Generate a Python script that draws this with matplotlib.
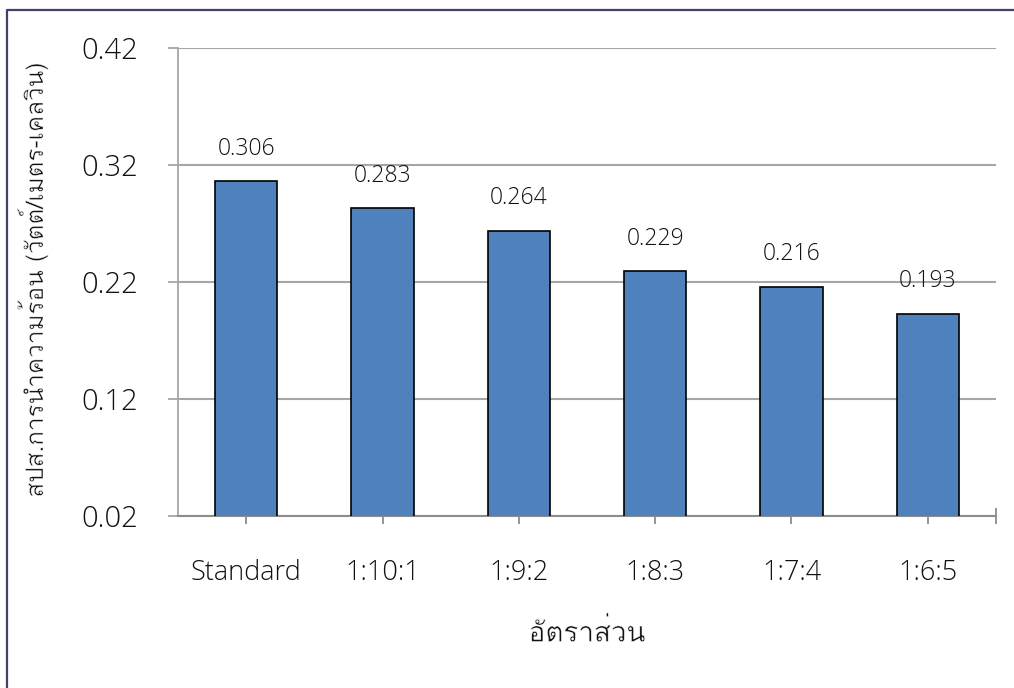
import os
import matplotlib
matplotlib.use("Agg")
import matplotlib.pyplot as plt
import matplotlib.patheffects as pe
from matplotlib import font_manager
from matplotlib.font_manager import FontProperties
from matplotlib.ft2font import FT2Font
from matplotlib.lines import Line2D

# Data
categories = ["Standard", "1:10:1", "1:9:2", "1:8:3", "1:7:4", "1:6:5"]
values = [0.306, 0.283, 0.264, 0.229, 0.216, 0.193]
y_ticks = [0.02, 0.12, 0.22, 0.32, 0.42]
x_label = "อัตราส่วน"
y_label = "สปส.การนำความร้อน (วัตต์/เมตร-เคลวิน)"


def find_thai_font():
    """Path of a regular-weight upright sans font that covers Thai."""
    best, best_score = None, None
    for entry in font_manager.fontManager.ttflist:
        try:
            ft = FT2Font(entry.fname)
            if ft.get_char_index(ord("ส")) == 0 or ft.get_char_index(ord("ว")) == 0:
                continue
            style_name = (ft.style_name or "").lower()
        except Exception:
            continue
        base = os.path.basename(entry.fname).lower()
        score = 0
        if "bold" in base or "bold" in style_name or "black" in base or "heavy" in base:
            score += 100
        if "semi" in base or "medium" in base or "medium" in style_name:
            score += 40
        if "italic" in base or "oblique" in base or "italic" in style_name:
            score += 200
        if "light" in base or "thin" in base:
            score += 10
        if "regular" in base or style_name in ("regular", "book", "normal"):
            score -= 5
        if "serif" in base and "sans" not in base:
            score += 50
        if best_score is None or score < best_score:
            best, best_score = entry.fname, score
    return best


thai_path = find_thai_font()
plt.rcParams["font.family"] = ["Open Sans", "DejaVu Sans"]
plt.rcParams["font.weight"] = 300


def thai_props(size):
    if thai_path:
        return FontProperties(fname=thai_path, size=size)
    return FontProperties(family=["DejaVu Sans"], size=size)


# slightly thin the heavy Thai strokes with a white outline
thin_strokes = [pe.Stroke(linewidth=0.35, foreground="white")]

fig = plt.figure(figsize=(10.14, 6.88), dpi=100)
ax = fig.add_axes([178 / 1014, 1 - 516 / 688, (996 - 178) / 1014, (516 - 48) / 688])

x = list(range(len(categories)))
ax.bar(x, values, width=0.455, color="#4f81bd", edgecolor="black",
       linewidth=1.2, zorder=3)

for xi, v in zip(x, values):
    ax.annotate(f"{v:.3f}", xy=(xi, v), xytext=(0, 23.5), textcoords="offset points",
                ha="center", va="center", fontsize=16.5, color="#111111")

ax.set_xlim(-0.5, len(categories) - 0.5)
ax.set_ylim(y_ticks[0], y_ticks[-1])
ax.set_yticks(y_ticks)
ax.set_yticklabels([f"{t:.2f}" for t in y_ticks], fontsize=21)
ax.yaxis.grid(True, color="#a6a6a6", linewidth=1.5, zorder=0)
ax.set_axisbelow(True)

ax.set_xticks(x + [len(categories) - 0.5])
ax.set_xticklabels(categories + [""], fontsize=19.5)

ax.tick_params(axis="x", direction="inout", length=11.5, width=1.3,
               color="#8c8c8c", pad=25, labelcolor="#111111")
ax.tick_params(axis="y", direction="out", length=7.5, width=1.3,
               color="#a6a6a6", pad=21, labelcolor="#111111")

for side in ("top", "right"):
    ax.spines[side].set_visible(False)
ax.spines["left"].set_color("#a6a6a6")
ax.spines["left"].set_linewidth(1.3)
ax.spines["bottom"].set_color("#8c8c8c")
ax.spines["bottom"].set_linewidth(1.5)

fig.text(587 / 1014, 1 - 633 / 688, x_label, ha="center", va="center",
         fontproperties=thai_props(20), color="#111111", path_effects=thin_strokes)
fig.text(32 / 1014, 1 - 280 / 688, y_label, ha="center", va="center",
         rotation=90, fontproperties=thai_props(17.5), color="#111111",
         path_effects=thin_strokes)

# Outer frame (left and top edges)
fx = 7 / 1014
fy = 1 - 10 / 688
fig.add_artist(Line2D([fx, fx, 1.0], [0.0, fy, fy], transform=fig.transFigure,
                      color="#4a3d6a", linewidth=1.6))

fig.savefig("out.png", dpi=100)
